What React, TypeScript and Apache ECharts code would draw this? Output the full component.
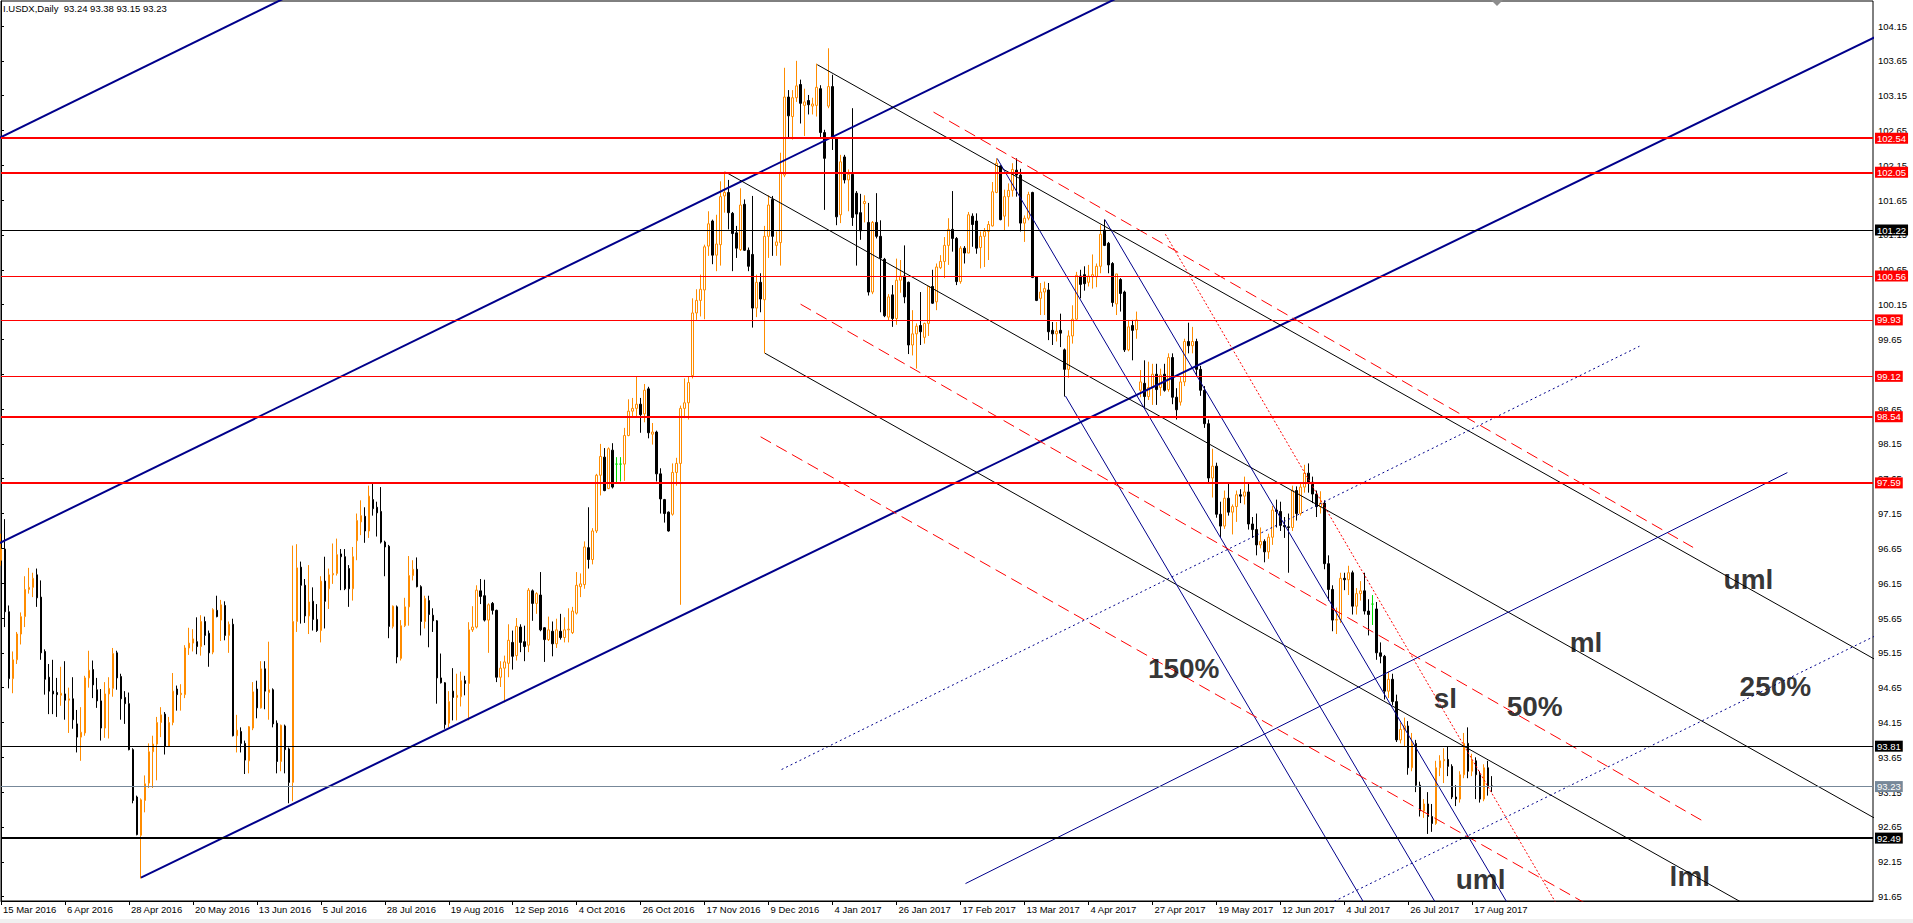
import { useEffect, useRef } from 'react';
import * as echarts from 'echarts';

type Pt = [number, number];

// one label every 16 daily bars, first label sits on bar 0
const dateTicks = [
    '15 Mar 2016', '6 Apr 2016', '28 Apr 2016', '20 May 2016', '13 Jun 2016', '5 Jul 2016',
    '28 Jul 2016', '19 Aug 2016', '12 Sep 2016', '4 Oct 2016', '26 Oct 2016', '17 Nov 2016',
    '9 Dec 2016', '4 Jan 2017', '26 Jan 2017', '17 Feb 2017', '13 Mar 2017', '4 Apr 2017',
    '27 Apr 2017', '19 May 2017', '12 Jun 2017', '4 Jul 2017', '26 Jul 2017', '17 Aug 2017'
];
const barsPerTick = 16;

const priceTicks = [
    91.65, 92.15, 92.65, 93.15, 93.65, 94.15, 94.65, 95.15, 95.65, 96.15, 96.65, 97.15, 97.65,
    98.15, 98.65, 99.15, 99.65, 100.15, 100.65, 101.15, 101.65, 102.15, 102.65, 103.15, 103.65, 104.15
];

// daily bars, [open, high, low, close]
const candles: [number, number, number, number][] = [
    [96.48, 96.86, 96.40, 96.64], [96.64, 97.07, 95.52, 95.74], [95.74, 95.83, 94.64, 94.78], [94.78, 95.17, 94.57, 95.05],
    [95.05, 95.45, 94.99, 95.42], [95.42, 95.73, 95.27, 95.67], [95.67, 96.25, 95.52, 96.06], [96.06, 96.37, 96.00, 96.09],
    [96.09, 96.30, 95.95, 96.22], [96.27, 96.36, 95.81, 95.94], [95.95, 96.19, 95.05, 95.15], [95.17, 95.20, 94.55, 94.77],
    [94.80, 94.99, 94.27, 94.60], [94.60, 95.05, 94.27, 94.56], [94.58, 94.79, 94.23, 94.55], [94.54, 94.95, 94.39, 94.57],
    [94.56, 95.03, 94.19, 94.47], [94.47, 94.65, 94.00, 94.49], [94.49, 94.80, 94.06, 94.19], [94.13, 94.33, 93.72, 93.94],
    [93.94, 94.37, 93.60, 94.01], [94.00, 94.82, 93.96, 94.79], [94.79, 95.18, 94.65, 94.90], [94.91, 95.04, 94.50, 94.69],
    [94.62, 94.79, 94.36, 94.46], [94.46, 94.63, 93.89, 94.07], [94.07, 94.73, 93.93, 94.56], [94.56, 94.80, 93.92, 94.64],
    [94.64, 95.22, 94.52, 95.14], [95.15, 95.18, 94.62, 94.79], [94.81, 94.85, 94.19, 94.49], [94.51, 94.60, 94.13, 94.42],
    [94.42, 94.58, 93.75, 93.76], [93.76, 93.78, 92.99, 93.03], [93.08, 93.10, 92.53, 92.54], [92.53, 93.06, 91.91, 93.04],
    [93.03, 93.39, 92.86, 93.27], [93.28, 93.85, 93.21, 93.73], [93.73, 93.96, 93.21, 93.84], [93.84, 94.23, 93.32, 94.15],
    [94.15, 94.37, 93.94, 94.26], [94.27, 94.30, 93.69, 93.81], [93.81, 94.23, 93.80, 94.15], [94.15, 94.86, 94.11, 94.60],
    [94.63, 94.68, 94.32, 94.55], [94.55, 94.70, 94.32, 94.57], [94.55, 95.26, 94.50, 95.22], [95.22, 95.51, 95.12, 95.29],
    [95.29, 95.49, 95.17, 95.35], [95.31, 95.66, 95.13, 95.24], [95.24, 95.69, 95.11, 95.60], [95.60, 95.67, 95.26, 95.40],
    [95.43, 95.47, 94.95, 95.15], [95.16, 95.79, 95.13, 95.77], [95.76, 95.97, 95.66, 95.67], [95.62, 95.91, 95.32, 95.84],
    [95.83, 95.89, 95.33, 95.40], [95.40, 95.60, 95.15, 95.56], [95.56, 95.64, 93.95, 93.96], [93.96, 94.26, 93.72, 94.04],
    [94.02, 94.08, 93.72, 93.85], [93.85, 93.89, 93.41, 93.61], [93.60, 94.10, 93.42, 94.09], [94.07, 94.73, 94.04, 94.59],
    [94.63, 94.75, 94.21, 94.36], [94.36, 95.03, 94.35, 94.92], [94.92, 95.03, 94.34, 94.60], [94.58, 95.31, 94.19, 94.62],
    [94.62, 94.64, 94.08, 94.13], [94.14, 94.18, 93.42, 93.59], [93.59, 94.12, 93.45, 94.11], [94.10, 94.12, 93.42, 93.76],
    [93.77, 93.79, 92.99, 93.29], [93.29, 96.69, 93.02, 95.60], [95.60, 96.71, 95.45, 96.37], [96.38, 96.46, 95.57, 96.12],
    [96.12, 96.21, 95.58, 95.68], [95.68, 96.41, 95.42, 95.88], [95.89, 96.09, 95.47, 95.63], [95.63, 95.85, 95.45, 95.47],
    [95.47, 96.25, 95.30, 96.18], [96.18, 96.53, 95.50, 95.89], [96.07, 96.36, 95.78, 96.27], [96.27, 96.72, 96.14, 96.29],
    [96.29, 96.79, 96.26, 96.56], [96.57, 96.64, 96.05, 96.53], [96.53, 96.64, 96.05, 96.07], [96.36, 96.41, 95.81, 96.07],
    [96.07, 96.67, 95.90, 96.53], [96.76, 97.15, 96.48, 97.05], [97.03, 97.34, 96.84, 97.12], [97.11, 97.24, 96.73, 96.90],
    [96.90, 97.55, 96.80, 97.40], [97.35, 97.58, 97.12, 97.22], [97.24, 97.32, 96.82, 97.16], [97.18, 97.53, 96.72, 96.74],
    [96.74, 96.76, 96.25, 96.67], [96.68, 96.70, 95.36, 95.53], [95.53, 95.83, 95.50, 95.82], [95.81, 95.83, 95.00, 95.09],
    [95.07, 95.62, 95.04, 95.54], [95.54, 95.94, 95.52, 95.81], [95.81, 96.54, 95.54, 96.26], [96.26, 96.48, 96.19, 96.35],
    [96.35, 96.52, 96.09, 96.10], [96.10, 96.12, 95.40, 95.60], [95.60, 95.97, 95.50, 95.93], [95.90, 95.97, 95.23, 95.70],
    [95.69, 95.79, 95.45, 95.61], [95.61, 95.62, 94.42, 94.79], [94.79, 95.14, 94.71, 94.72], [94.72, 94.73, 94.06, 94.12],
    [94.14, 94.60, 94.08, 94.45], [94.60, 94.93, 94.18, 94.51], [94.51, 94.85, 94.18, 94.54], [94.52, 94.88, 94.38, 94.75],
    [94.75, 94.82, 94.54, 94.71], [94.71, 95.59, 94.18, 95.48], [95.48, 95.82, 95.45, 95.52], [95.52, 96.12, 95.50, 96.05],
    [96.04, 96.21, 95.85, 95.96], [95.97, 96.20, 95.60, 95.62], [95.62, 95.86, 95.15, 95.84], [95.86, 95.88, 95.70, 95.76],
    [95.76, 95.77, 94.73, 94.80], [94.80, 95.03, 94.66, 94.93], [94.93, 95.11, 94.44, 95.02], [95.00, 95.56, 94.80, 95.33],
    [95.30, 95.47, 94.91, 95.10], [95.11, 95.65, 95.04, 95.53], [95.52, 95.56, 95.16, 95.30], [95.31, 95.54, 95.03, 95.24],
    [95.26, 96.08, 95.16, 96.05], [96.04, 96.06, 95.61, 95.86], [95.86, 96.02, 95.71, 96.00], [95.98, 96.31, 95.46, 95.48],
    [95.51, 95.52, 95.02, 95.34], [95.34, 95.67, 95.32, 95.48], [95.46, 95.60, 95.10, 95.28], [95.28, 95.64, 95.22, 95.48],
    [95.46, 95.71, 95.34, 95.37], [95.37, 95.66, 95.30, 95.48], [95.48, 95.79, 95.30, 95.49], [95.44, 95.81, 95.42, 95.75],
    [95.72, 96.31, 95.70, 96.12], [96.10, 96.29, 95.95, 96.14], [96.13, 96.75, 96.07, 96.67], [96.66, 97.24, 96.36, 96.49],
    [96.49, 96.94, 96.42, 96.90], [96.90, 97.72, 96.87, 97.70], [97.70, 98.15, 97.41, 97.97], [97.96, 98.09, 97.47, 97.48],
    [97.51, 98.10, 97.50, 98.08], [98.06, 98.16, 97.51, 97.53], [97.86, 97.96, 97.59, 97.86], [97.86, 97.96, 97.61, 97.86],
    [97.86, 98.38, 97.62, 98.27], [98.27, 98.79, 98.26, 98.62], [98.62, 98.81, 98.53, 98.66], [98.66, 99.12, 98.53, 98.72],
    [98.72, 98.81, 98.31, 98.57], [98.58, 99.01, 98.46, 98.92], [98.94, 98.97, 98.23, 98.31], [98.29, 98.45, 98.14, 98.32],
    [98.32, 98.34, 97.61, 97.72], [97.72, 97.80, 97.15, 97.36], [97.35, 97.36, 97.02, 97.15], [97.17, 97.18, 96.89, 96.90],
    [97.14, 97.87, 97.12, 97.74], [97.74, 97.95, 97.55, 97.87], [97.87, 98.70, 95.84, 98.66], [98.66, 99.09, 98.52, 98.74],
    [98.74, 99.12, 98.50, 99.03], [99.13, 100.24, 99.09, 100.03], [100.03, 100.37, 99.93, 100.21], [100.21, 100.58, 99.98, 100.37],
    [100.36, 101.01, 99.94, 100.98], [100.99, 101.49, 100.85, 101.31], [101.35, 101.37, 100.73, 100.86], [100.86, 101.44, 100.63, 101.02],
    [101.01, 101.92, 100.71, 101.70], [101.71, 102.06, 101.47, 101.76], [101.76, 101.94, 101.23, 101.47], [101.46, 101.48, 100.63, 101.17],
    [101.18, 101.28, 100.82, 100.96], [100.94, 101.82, 100.92, 101.58], [101.59, 101.66, 100.92, 100.93], [100.93, 100.97, 100.63, 100.70],
    [100.87, 101.71, 99.82, 100.10], [100.10, 100.58, 99.97, 100.47], [100.47, 100.60, 100.04, 100.23], [100.22, 101.28, 99.45, 101.13],
    [101.13, 101.72, 100.82, 101.58], [101.66, 101.71, 100.85, 101.13], [101.00, 101.20, 100.85, 101.05], [101.04, 102.33, 100.71, 102.05],
    [102.01, 103.55, 101.98, 103.13], [103.13, 103.23, 102.55, 102.86], [102.85, 103.23, 102.52, 103.12], [103.12, 103.65, 103.06, 103.29],
    [103.31, 103.38, 102.75, 103.04], [103.01, 103.25, 102.57, 103.06], [103.08, 103.16, 102.88, 103.02], [103.00, 103.12, 102.88, 103.03],
    [103.01, 103.61, 102.85, 103.27], [103.25, 103.30, 102.55, 102.62], [102.62, 102.66, 101.51, 102.25], [103.00, 103.83, 102.97, 103.28],
    [103.28, 103.45, 102.37, 102.54], [102.54, 102.55, 101.29, 101.41], [101.44, 102.30, 101.32, 102.20], [102.27, 102.30, 101.89, 101.94],
    [101.94, 102.09, 101.49, 102.02], [102.02, 102.97, 101.28, 101.40], [101.75, 101.78, 100.71, 101.45], [101.47, 101.74, 101.08, 101.21],
    [101.60, 101.72, 101.33, 101.63], [101.33, 101.61, 100.28, 100.33], [100.33, 101.35, 100.30, 101.33], [101.33, 101.75, 101.10, 101.13],
    [101.13, 101.36, 100.04, 100.82], [100.80, 100.82, 99.97, 99.99], [99.97, 100.30, 99.92, 100.26], [100.29, 100.43, 99.83, 99.95],
    [99.95, 100.81, 99.86, 100.50], [100.50, 100.79, 100.32, 100.56], [100.56, 101.00, 100.17, 100.26], [100.47, 100.48, 99.44, 99.57],
    [99.57, 100.07, 99.42, 99.73], [99.73, 99.88, 99.23, 99.84], [99.85, 100.33, 99.57, 99.76], [99.68, 99.89, 99.59, 99.88],
    [99.88, 100.42, 99.70, 100.41], [100.41, 100.65, 100.16, 100.17], [100.19, 100.74, 100.07, 100.69], [100.68, 100.86, 100.66, 100.77],
    [100.77, 101.12, 100.53, 101.00], [101.00, 101.39, 100.72, 101.23], [101.23, 101.78, 100.91, 101.10], [101.10, 101.12, 100.43, 100.48],
    [100.48, 100.99, 100.45, 100.96], [100.96, 100.99, 100.74, 100.89], [100.89, 101.48, 100.89, 101.44], [101.42, 101.46, 100.98, 101.30],
    [101.35, 101.46, 100.88, 100.96], [100.97, 101.20, 100.67, 101.13], [101.13, 101.25, 100.69, 101.20], [101.20, 101.35, 100.79, 101.30],
    [101.28, 101.91, 101.27, 101.77], [101.76, 102.25, 101.75, 102.18], [102.14, 102.15, 101.36, 101.37], [101.42, 101.80, 101.22, 101.70],
    [101.70, 101.89, 101.27, 101.79], [101.79, 102.18, 101.70, 102.09], [102.08, 102.25, 101.70, 102.01], [102.01, 102.10, 101.20, 101.32],
    [101.32, 101.43, 101.05, 101.39], [101.39, 101.77, 101.36, 101.73], [101.76, 101.77, 100.53, 100.54], [100.55, 100.56, 100.20, 100.21],
    [100.24, 100.46, 100.00, 100.33], [100.33, 100.48, 100.00, 100.38], [100.36, 100.46, 99.64, 99.76], [99.78, 99.90, 99.57, 99.73],
    [99.73, 99.90, 99.62, 99.77], [99.78, 100.02, 99.54, 99.74], [99.50, 99.52, 98.83, 99.22], [99.22, 99.78, 99.10, 99.70],
    [99.70, 100.14, 99.59, 99.94], [99.94, 100.62, 99.93, 100.57], [100.56, 100.65, 100.24, 100.44], [100.58, 100.70, 100.35, 100.45],
    [100.47, 100.72, 100.41, 100.56], [100.55, 100.87, 100.38, 100.58], [100.55, 100.74, 100.40, 100.70], [100.70, 101.29, 100.60, 101.16],
    [101.22, 101.37, 100.99, 101.00], [101.03, 101.05, 100.60, 100.72], [100.74, 100.76, 100.12, 100.18], [100.16, 100.59, 100.00, 100.59],
    [100.51, 100.53, 100.05, 100.31], [100.33, 100.35, 99.47, 99.50], [99.50, 99.93, 99.48, 99.83], [99.85, 99.93, 99.35, 99.78],
    [99.79, 100.05, 99.66, 99.93], [98.92, 99.21, 98.82, 99.04], [99.02, 99.35, 98.68, 98.83], [98.83, 99.33, 98.78, 98.96],
    [98.96, 99.30, 98.71, 99.15], [99.15, 99.30, 98.71, 98.93], [98.96, 99.23, 98.84, 99.14], [99.15, 99.30, 98.90, 98.92],
    [98.93, 99.45, 98.90, 99.39], [99.39, 99.45, 98.72, 98.82], [98.82, 98.95, 98.50, 98.64], [98.75, 99.12, 98.70, 99.04],
    [99.04, 99.66, 98.98, 99.62], [99.62, 99.89, 99.45, 99.56], [99.56, 99.83, 99.45, 99.62], [99.62, 99.66, 99.12, 99.22],
    [99.22, 99.27, 98.84, 98.92], [98.92, 98.98, 98.38, 98.44], [98.44, 98.50, 97.58, 97.66], [97.66, 98.08, 97.38, 97.83],
    [97.83, 97.88, 97.09, 97.14], [97.14, 97.32, 96.80, 96.97], [96.97, 97.48, 96.93, 97.37], [97.37, 97.58, 97.12, 97.17],
    [97.17, 97.28, 96.85, 97.25], [97.25, 97.48, 97.03, 97.42], [97.42, 97.50, 97.30, 97.40], [97.40, 97.68, 97.28, 97.46],
    [97.46, 97.60, 96.92, 97.00], [97.00, 97.10, 96.80, 96.92], [96.92, 97.15, 96.55, 96.70], [96.70, 96.95, 96.65, 96.75],
    [96.75, 96.78, 96.45, 96.60], [96.60, 96.86, 96.50, 96.81], [96.81, 97.26, 96.70, 97.20], [97.20, 97.35, 96.95, 97.18],
    [97.18, 97.32, 96.90, 96.98], [96.98, 97.10, 96.80, 96.96], [96.96, 97.15, 96.30, 96.95], [96.95, 97.55, 96.90, 97.48],
    [97.48, 97.54, 97.05, 97.15], [97.15, 97.58, 97.12, 97.53], [97.53, 97.85, 97.45, 97.73], [97.73, 97.87, 97.45, 97.60],
    [97.60, 97.68, 97.30, 97.43], [97.43, 97.48, 97.10, 97.25], [97.25, 97.47, 97.15, 97.30], [97.30, 97.34, 96.35, 96.43],
    [96.43, 96.55, 95.90, 96.06], [96.06, 96.12, 95.46, 95.62], [95.62, 95.80, 95.42, 95.63], [95.63, 96.30, 95.58, 96.22],
    [96.22, 96.30, 96.05, 96.20], [96.20, 96.40, 95.98, 96.30], [96.30, 96.33, 95.70, 95.82], [95.82, 96.08, 95.70, 96.00],
    [96.00, 96.18, 95.90, 96.04], [96.04, 96.30, 95.70, 95.75], [95.75, 95.92, 95.40, 95.70], [95.85, 95.98, 95.55, 95.85],
    [95.78, 95.88, 95.05, 95.15], [95.15, 95.30, 95.00, 95.10], [95.10, 95.12, 94.48, 94.60], [94.60, 94.88, 94.50, 94.77],
    [94.77, 94.85, 94.40, 94.45], [94.45, 94.55, 93.87, 93.90], [93.90, 94.15, 93.85, 94.05], [94.05, 94.22, 93.80, 94.10],
    [94.10, 94.17, 93.40, 93.50], [93.50, 94.00, 93.45, 93.85], [93.85, 93.90, 93.15, 93.25], [93.25, 93.30, 92.80, 92.88],
    [92.88, 93.05, 92.78, 92.98], [92.98, 93.15, 92.55, 92.80], [92.80, 92.98, 92.58, 92.70], [92.70, 93.60, 92.68, 93.50],
    [93.50, 93.68, 93.38, 93.60], [93.60, 93.78, 93.28, 93.62], [93.62, 93.80, 93.38, 93.52], [93.52, 93.55, 93.05, 93.08],
    [93.08, 93.25, 92.95, 93.05], [93.05, 93.45, 93.00, 93.40], [93.40, 94.00, 93.35, 93.85], [93.85, 94.08, 93.35, 93.45],
    [93.45, 93.70, 93.38, 93.60], [93.60, 93.65, 93.05, 93.40], [93.40, 93.45, 93.00, 93.05], [93.05, 93.55, 93.02, 93.50],
    [93.50, 93.60, 93.10, 93.24], [93.24, 93.38, 93.15, 93.23]
];

// horizontal levels drawn on the chart
const redLevels = [102.54, 102.05, 100.56, 99.93, 99.12, 98.54, 97.59];
const blackLevels = [101.22, 93.81, 92.49];
const majorLevels = [102.54, 102.05, 98.54, 97.59, 92.49];

// rising channel (bar index, price)
const channelTop: Pt[] = [[0, 102.555], [70, 104.524]];
const channelMid: Pt[] = [[0, 96.736], [135, 100.515]];
const channelLow: Pt[] = [[35, 91.923], [468.25, 103.976]];

// pitchfork pivots A, B, C
const blackFork: Pt[] = [[181.25, 102.052], [191.08, 99.452], [204.17, 103.595]];
const blueFork: Pt[] = [[249.17, 102.249], [266.25, 98.838], [276.08, 101.373]];

const redDashed: Pt[][] = [
    [[233.25, 102.914], [423.25, 96.664]],
    [[200, 100.156], [425.5, 92.742]],
    [[190, 98.252], [430, 90.46]],
];
const redDotted: Pt[] = [[291.25, 101.161], [420, 88.505]];
const blueDotted: Pt[][] = [
    [[195.25, 93.475], [409.83, 99.552]],
    [[320, 91.203], [480, 95.709]],
];
const blueThin: Pt[] = [[241.25, 91.837], [446.83, 97.738]];

const notes = [
    { text: 'uml', bar: 430.75, price: 96.2 },
    { text: 'ml', bar: 392.25, price: 95.3 },
    { text: '250%', bar: 434.75, price: 94.66 },
    { text: '50%', bar: 376.5, price: 94.38 },
    { text: 'sl', bar: 358.25, price: 94.5 },
    { text: '150%', bar: 286.75, price: 94.93 },
    { text: 'uml', bar: 363.75, price: 91.9 },
    { text: 'lml', bar: 417.25, price: 91.94 },
];

const FONT = 'Liberation Sans, Arial, sans-serif';
const RED = '#FF0000';
const BLUE = '#00008B';

function fork(p: Pt[], toBar: number): Pt[][] {
    const [a, b, c] = p;
    const m: Pt = [(b[0] + c[0]) / 2, (b[1] + c[1]) / 2];
    const k = (m[1] - a[1]) / (m[0] - a[0]);
    const ray = (s: Pt): Pt[] => [s, [toBar, s[1] + k * (toBar - s[0])]];
    return [ray(a), ray(b), ray(c)];
}

function stretch(p: Pt[], from: number, to: number): Pt[] {
    const [a, b] = p;
    const k = (b[1] - a[1]) / (b[0] - a[0]);
    return [[from, a[1] + k * (from - a[0])], [to, a[1] + k * (to - a[0])]];
}

function line(data: Pt[], color: string, width: number, type: any = 'solid') {
    return {
        type: 'line',
        data,
        symbol: 'none',
        silent: true,
        clip: true,
        z: 3,
        lineStyle: { color, width, type },
    };
}

export default function App() {
    const chartRef = useRef<HTMLDivElement>(null);

    useEffect(() => {
        document.body.style.margin = '0';
        if (!chartRef.current) return;
        const chart = echarts.init(chartRef.current, undefined, { renderer: 'svg' });

        const last = candles[candles.length - 1];
        const tickBars = dateTicks.map((_, i) => i * barsPerTick);

        const levelLine = (price: number, color: string, tagColor: string) => ({
            yAxis: price,
            lineStyle: { color, width: majorLevels.includes(price) ? 2 : 1, type: 'solid' },
            label: { backgroundColor: tagColor },
        });

        const option = {
            animation: false,
            backgroundColor: '#FFFFFF',
            title: {
                text: `I.USDX,Daily\u00a0 ${last.map(v => v.toFixed(2)).join(' ')}`,
                left: 3,
                top: 3,
                padding: 0,
                textStyle: { fontSize: 9.5, fontWeight: 'normal', color: '#000', fontFamily: FONT },
            },
            grid: {
                left: 0, top: 1, width: 1873, height: 900,
                show: true, borderColor: '#000', borderWidth: 1, backgroundColor: '#FFFFFF',
            },
            xAxis: {
                type: 'value',
                min: 0,
                max: 468.25,
                axisLine: { show: true, lineStyle: { color: '#000', width: 1 } },
                axisTick: { show: true, customValues: tickBars, length: 4, lineStyle: { color: '#000' } },
                axisLabel: {
                    customValues: tickBars,
                    formatter: (v: number) => dateTicks[Math.round(v / barsPerTick)] ?? '',
                    align: 'left',
                    margin: 3,
                    padding: [0, 0, 0, 2],
                    fontSize: 9.5,
                    color: '#000',
                    fontFamily: FONT,
                },
                splitLine: { show: false },
            },
            yAxis: {
                type: 'value',
                position: 'right',
                min: 91.587,
                max: 104.509,
                axisLine: { show: true, lineStyle: { color: '#000', width: 1 } },
                axisTick: { show: true, customValues: priceTicks, length: 3, lineStyle: { color: '#000' } },
                axisLabel: {
                    customValues: priceTicks,
                    formatter: (v: number) => v.toFixed(2),
                    margin: 5,
                    fontSize: 9.5,
                    color: '#000',
                    fontFamily: FONT,
                },
                splitLine: { show: false },
            },
            graphic: [
                {
                    type: 'polygon',
                    shape: { points: [[1491, 0], [1503, 0], [1497, 6]] },
                    style: { fill: '#8C8C8C' },
                    z: 20,
                },
                {
                    type: 'rect',
                    shape: { x: 0, y: 919, width: 1913, height: 4 },
                    style: { fill: '#F0F0F0' },
                    z: 20,
                },
            ],
            series: [
                {
                    type: 'candlestick',
                    data: candles.map(([o, h, l, c], i) => [i, o, c, l, h]),
                    encode: { x: 0, y: [1, 2, 3, 4] },
                    barWidth: 2,
                    clip: true,
                    itemStyle: {
                        color: '#FFFFFF',
                        color0: '#000000',
                        borderColor: '#FF8C00',
                        borderColor0: '#000000',
                        borderColorDoji: '#00E000',
                        borderWidth: 1,
                    },
                    markLine: {
                        silent: true,
                        symbol: ['none', 'none'],
                        animation: false,
                        label: {
                            show: true,
                            position: 'end',
                            distance: 2,
                            formatter: (p: any) => Number(p.value).toFixed(2),
                            color: '#FFFFFF',
                            fontSize: 9.5,
                            fontFamily: FONT,
                            padding: [1, 2, 0, 2],
                            lineHeight: 10,
                        },
                        data: [
                            ...redLevels.map(p => levelLine(p, RED, RED)),
                            ...blackLevels.map(p => levelLine(p, '#000000', '#000000')),
                            levelLine(last[3], '#778899', '#778899'),
                        ],
                    },
                },
                line(stretch(channelTop, -5, 90), BLUE, 2),
                line(stretch(channelMid, -5, 300), BLUE, 2),
                line(stretch(channelLow, 35, 480), BLUE, 2),
                ...fork(blackFork, 480).map(d => line(d, '#000000', 1)),
                ...fork(blueFork, 420).map(d => line(d, BLUE, 1)),
                ...redDashed.map(d => line(d, RED, 1, [12, 6])),
                line(redDotted, RED, 1, [2, 2]),
                ...blueDotted.map(d => line(d, BLUE, 1, [2, 3])),
                line(blueThin, BLUE, 1),
                {
                    type: 'scatter',
                    data: notes.map(n => ({ name: n.text, value: [n.bar, n.price] })),
                    symbolSize: 1,
                    itemStyle: { color: 'rgba(0,0,0,0)' },
                    silent: true,
                    z: 6,
                    label: {
                        show: true,
                        position: 'right',
                        distance: 0,
                        formatter: '{b}',
                        fontSize: 28,
                        fontWeight: 'bold',
                        color: '#000000',
                        fontFamily: FONT,
                    },
                },
            ],
        };

        chart.setOption(option as any);
        return () => chart.dispose();
    }, []);

    return <div ref={chartRef} style={{ width: '1913px', height: '923px' }}></div>;
}
